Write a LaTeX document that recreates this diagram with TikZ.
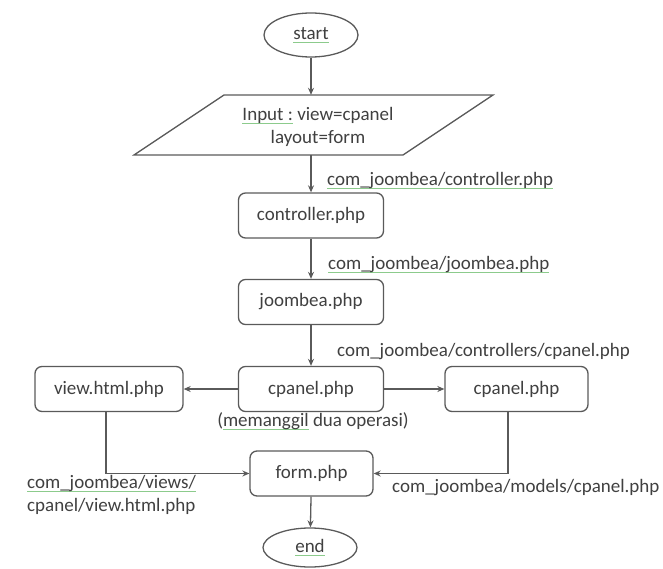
\documentclass[tikz,border=0pt]{standalone}
\usepackage{fontspec}
\setmainfont{Carlito}
\usetikzlibrary{shapes.geometric,arrows.meta,calc}

\definecolor{ink}{HTML}{404040}
\definecolor{edge}{HTML}{5A5A5A}
\definecolor{spellgreen}{HTML}{8CCB8C}

% green spell-check mark under a word
\newsavebox\spellbox
\newcommand\spellmark[1]{\sbox\spellbox{#1}\rlap{\color{spellgreen}\rule[-3.5pt]{\wd\spellbox}{0.9pt}}\usebox\spellbox}

\begin{document}
\begin{tikzpicture}[x=1pt,y=-1pt,
  font=\fontsize{19}{23}\selectfont, text=ink,
  procbox/.style={draw=edge, line width=1.3pt, rounded corners=7pt,
    minimum width=145pt, minimum height=45pt, inner sep=0pt},
  term/.style={ellipse, draw=edge, line width=1.3pt,
    minimum width=94pt, minimum height=44pt, inner sep=0pt},
  flow/.style={draw=edge, line width=1.3pt, -{Stealth[length=7pt,width=6pt]}},
  lbl/.style={inner sep=0pt, anchor=west}]

\useasboundingbox (0,0) rectangle (663,569);

% terminals and steps
\node[term] (start) at (311,35) {\spellmark{start}};

\node[minimum width=180pt, minimum height=60pt, inner sep=0pt] (input) at (311,125) {};
\draw[draw=edge, line width=1.3pt] (224,95) -- (493,95) -- (403,155) -- (134,155) -- cycle;
\node[align=center, inner sep=0pt] (inputtext) at (318,127)
  {\spellmark{Input :} view=cpanel\\layout=form};

\node[procbox] (ctrl) at (311,215.5) {controller.php};
\node[procbox] (joom) at (311,302) {joombea.php};
\node[procbox] (cpanel) at (311,389) {cpanel.php};
\node[procbox, minimum width=148pt] (view) at (109,389) {view.html.php};
\node[procbox, minimum width=143pt] (model) at (516.5,389) {cpanel.php};
\node[procbox, minimum width=123pt] (form) at (311.5,473.5) {form.php};
\node[term, minimum height=39pt] (end) at (310,547.5) {\spellmark{end}};

% connectors
\draw[flow] (start) -- (input.north);
\draw[flow] (input.south) -- (ctrl.north);
\draw[flow] (ctrl) -- (joom);
\draw[flow] (joom) -- (cpanel);
\draw[flow] (cpanel) -- (view);
\draw[flow] (cpanel) -- (model);
\draw[flow] ([xshift=-3pt]view.south) |- (form.west);
\draw[flow] ([xshift=-8.5pt]model.south) |- (form.east);
\draw[flow] (form) -- (end);

% file labels
\node[lbl] (l1) at (327,181) {\spellmark{com\_joombea/controller.php}};
\node[lbl] (l2) at (328,265) {\spellmark{com\_joombea/joombea.php}};
\node[lbl] (l3) at (337,352) {com\_joombea/controllers/cpanel.php};
\node[inner sep=0pt] (note) at (313,421) {(\spellmark{memanggil} dua operasi)};
\node[lbl, align=left] (l4) at (27,495)
  {\spellmark{com\_joombea/views/}\\cpanel/view.html.php};
\node[lbl] (l5) at (392,488) {com\_joombea/models/cpanel.php};
\end{tikzpicture}
\end{document}
